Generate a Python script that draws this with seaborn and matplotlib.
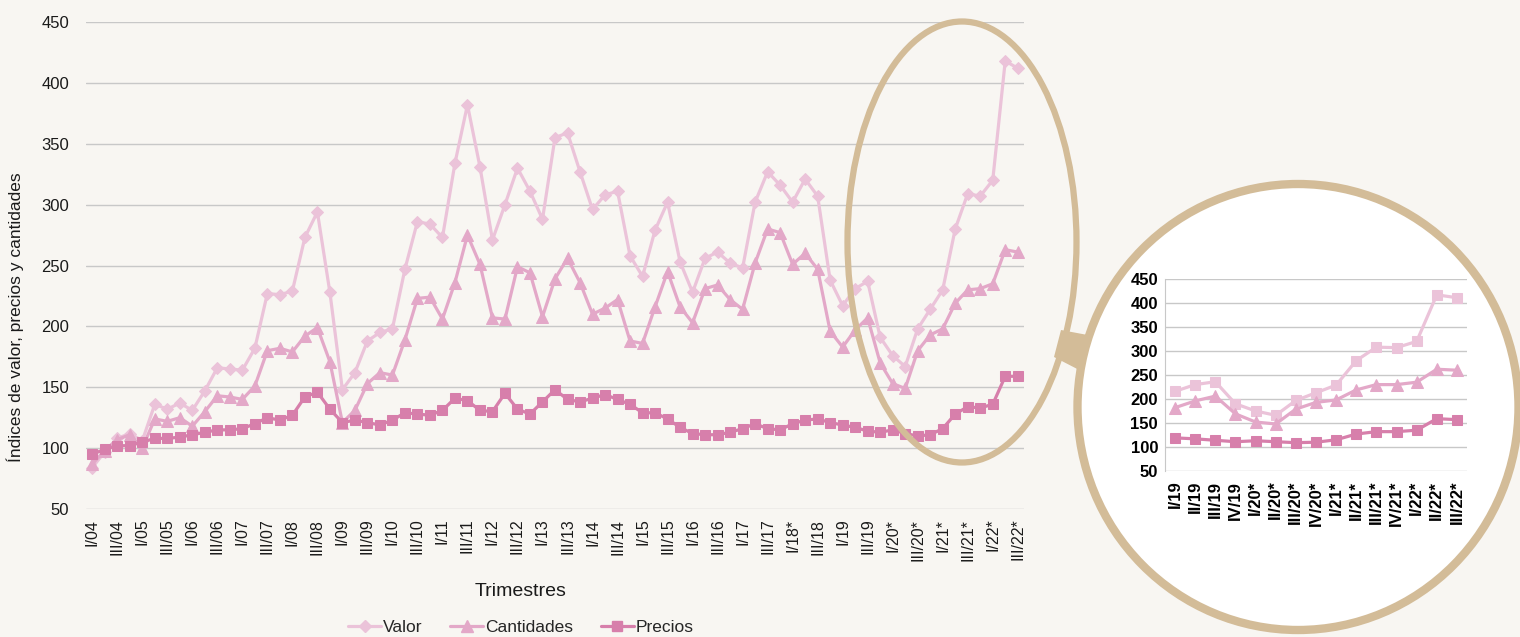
import numpy as np
import pandas as pd
import seaborn as sns
from matplotlib import pyplot as plt
from matplotlib.patches import Ellipse, Polygon
from matplotlib.lines import Line2D

# main series, I/04 .. III/22*
valor = [84, 97, 108, 112, 106, 136, 132, 137, 131, 147,
         166, 165, 164, 182, 227, 226, 229, 273, 294, 228,
         148, 162, 188, 195, 198, 247, 286, 284, 273, 334,
         382, 331, 271, 300, 330, 311, 288, 355, 359, 327,
         296, 308, 311, 258, 241, 279, 302, 253, 228, 256,
         261, 252, 248, 302, 327, 316, 302, 321, 307, 238,
         217, 231, 237, 191, 176, 167, 198, 214, 230, 280,
         309, 307, 320, 418, 412]
cantidades = [87, 98, 107, 111, 100, 124, 122, 125, 118, 130,
              143, 142, 140, 151, 180, 182, 179, 192, 199, 171,
              121, 131, 153, 162, 160, 189, 223, 224, 206, 236,
              275, 251, 207, 206, 249, 244, 208, 239, 256, 236,
              210, 215, 222, 188, 186, 216, 245, 216, 203, 231,
              234, 222, 214, 252, 280, 277, 251, 260, 247, 196,
              183, 197, 207, 170, 153, 149, 180, 193, 198, 219,
              230, 231, 235, 263, 261]
precios = [95, 99, 102, 102, 105, 108, 108, 109, 111, 113,
           115, 115, 116, 120, 125, 123, 127, 142, 146, 132,
           121, 123, 121, 119, 123, 129, 128, 127, 131, 141,
           139, 131, 130, 145, 132, 128, 138, 148, 140, 138,
           141, 144, 140, 136, 129, 129, 124, 117, 112, 111,
           111, 113, 116, 120, 116, 115, 120, 123, 124, 121,
           119, 117, 114, 113, 115, 112, 110, 111, 116, 128,
           134, 133, 136, 159, 159]
main_ticks = ["I/04", "III/04", "I/05", "III/05", "I/06", "III/06", "I/07", "III/07",
              "I/08", "III/08", "I/09", "III/09", "I/10", "III/10", "I/11", "III/11",
              "I/12", "III/12", "I/13", "III/13", "I/14", "III/14", "I/15", "III/15",
              "I/16", "III/16", "I/17", "III/17", "I/18*", "III/18", "I/19", "III/19",
              "I/20*", "III/20*", "I/21*", "III/21*", "I/22*", "III/22*"]

# zoomed inset, I/19 .. III/22*
zoom_ticks = ["I/19", "II/19", "III/19", "IV/19", "I/20*", "II/20*", "III/20*", "IV/20*",
              "I/21*", "II/21*", "III/21*", "IV/21*", "I/22*", "II/22*", "III/22*"]
zoom_valor = [216, 230, 236, 190, 175, 166, 197, 213, 229, 280, 308, 307, 320, 417, 411]
zoom_cant = [182, 196, 206, 169, 152, 148, 179, 193, 198, 219, 230, 230, 235, 262, 260]
zoom_prec = [119, 117, 114, 111, 113, 111, 109, 110, 115, 127, 132, 132, 135, 159, 157]

BG = '#F8F6F2'
C_VAL = '#EBC3D9'
C_CANT = '#E3A8C8'
C_PREC = '#D77FAB'
TAN = '#D3BC98'
GRID = '#C8C8C8'

sns.set_style("white")
plt.rcParams['font.family'] = ['Liberation Sans', 'DejaVu Sans']

W, H = 1520, 637
fig = plt.figure(figsize=(15.2, 6.37), dpi=100, facecolor=BG)

# ---- main chart
ax = fig.add_axes([86 / W, 128 / H, 938 / W, 487 / H])
ax.set_facecolor(BG)
df = pd.DataFrame({'x': np.arange(len(valor)), 'Valor': valor,
                   'Cantidades': cantidades, 'Precios': precios})
styles = [('Valor', C_VAL, 'D', 6.5), ('Cantidades', C_CANT, '^', 8), ('Precios', C_PREC, 's', 6.5)]
for name, col, mk, ms in styles:
    sns.lineplot(data=df, x='x', y=name, ax=ax, color=col, marker=mk, markersize=ms,
                 markeredgecolor=col, linewidth=2.3, legend=False)
ax.set_xlim(-0.5, len(valor) - 0.5)
ax.set_ylim(50, 450)
ax.set_yticks(range(50, 451, 50))
ax.set_xticks(df['x'][::2])
ax.set_xticklabels(main_ticks, rotation=90)
ax.grid(axis='y', color=GRID, linewidth=1)
ax.grid(axis='x', visible=False)
ax.set_axisbelow(True)
for s in ax.spines.values():
    s.set_visible(False)
ax.tick_params(axis='y', length=0, pad=12, labelsize=12, labelcolor='#1a1a1a')
ax.tick_params(axis='x', length=0, pad=7, labelsize=11.5, labelcolor='#1a1a1a')
ax.set_xlabel('')
ax.set_ylabel('')

fig.text(521 / W, 1 - 591 / H, 'Trimestres', ha='center', va='center', fontsize=14, color='#1a1a1a')
fig.text(15 / W, 1 - 317 / H, 'Índices de valor, precios y cantidades', rotation=90,
         ha='center', va='center', fontsize=12.5, color='#1a1a1a')

handles = [Line2D([], [], color=c, marker=m, markersize=ms, linewidth=2.3, markeredgecolor=c)
           for _, c, m, ms in styles]
fig.legend(handles, [s[0] for s in styles], loc='center', bbox_to_anchor=(521 / W, 1 - 627 / H),
           ncol=3, frameon=False, fontsize=12.5, handlelength=1.9, handletextpad=0.1,
           columnspacing=1.6)

# ---- highlight ellipse, connector and magnifier circle
fig.add_artist(Ellipse((962 / W, 1 - 242 / H), 229 / W, 441 / H, transform=fig.transFigure,
                       fill=False, edgecolor=TAN, linewidth=4.5, zorder=2))
conn = [(1061, 330), (1093, 336), (1085, 373), (1054, 357)]
fig.add_artist(Polygon([(px / W, 1 - py / H) for px, py in conn], closed=True,
                       transform=fig.transFigure, facecolor=TAN, edgecolor='none', zorder=1.5))
fig.add_artist(Ellipse((1298 / W, 1 - 407 / H), 441 / W, 446 / H, transform=fig.transFigure,
                       facecolor='white', edgecolor=TAN, linewidth=6, zorder=3))

# ---- inset chart
axi = fig.add_axes([1165 / W, (H - 471) / H, 302 / W, 192 / H], zorder=4)
axi.set_facecolor('none')
dz = pd.DataFrame({'x': np.arange(len(zoom_ticks)), 'Valor': zoom_valor,
                   'Cantidades': zoom_cant, 'Precios': zoom_prec})
zstyles = [('Valor', C_VAL, 's', 6.5), ('Cantidades', C_CANT, '^', 8), ('Precios', C_PREC, 's', 6.5)]
for name, col, mk, ms in zstyles:
    sns.lineplot(data=dz, x='x', y=name, ax=axi, color=col, marker=mk, markersize=ms,
                 markeredgecolor=col, linewidth=2.3, legend=False)
axi.set_xlim(-0.5, len(zoom_ticks) - 0.5)
axi.set_ylim(50, 450)
axi.set_yticks(range(50, 451, 50))
axi.set_xticks(dz['x'])
axi.set_xticklabels(zoom_ticks, rotation=90, fontweight='bold')
for lbl in axi.get_yticklabels():
    lbl.set_fontweight('bold')
axi.grid(axis='y', color=GRID, linewidth=1)
axi.grid(axis='x', visible=False)
axi.set_axisbelow(True)
for k, s in axi.spines.items():
    s.set_visible(k == 'left')
axi.spines['left'].set_color(GRID)
axi.tick_params(axis='y', length=0, pad=5, labelsize=12, labelcolor='black')
axi.tick_params(axis='x', length=0, pad=7, labelsize=12, labelcolor='black')
axi.set_xlabel('')
axi.set_ylabel('')

fig.savefig('out.png', dpi=100, facecolor=BG)
